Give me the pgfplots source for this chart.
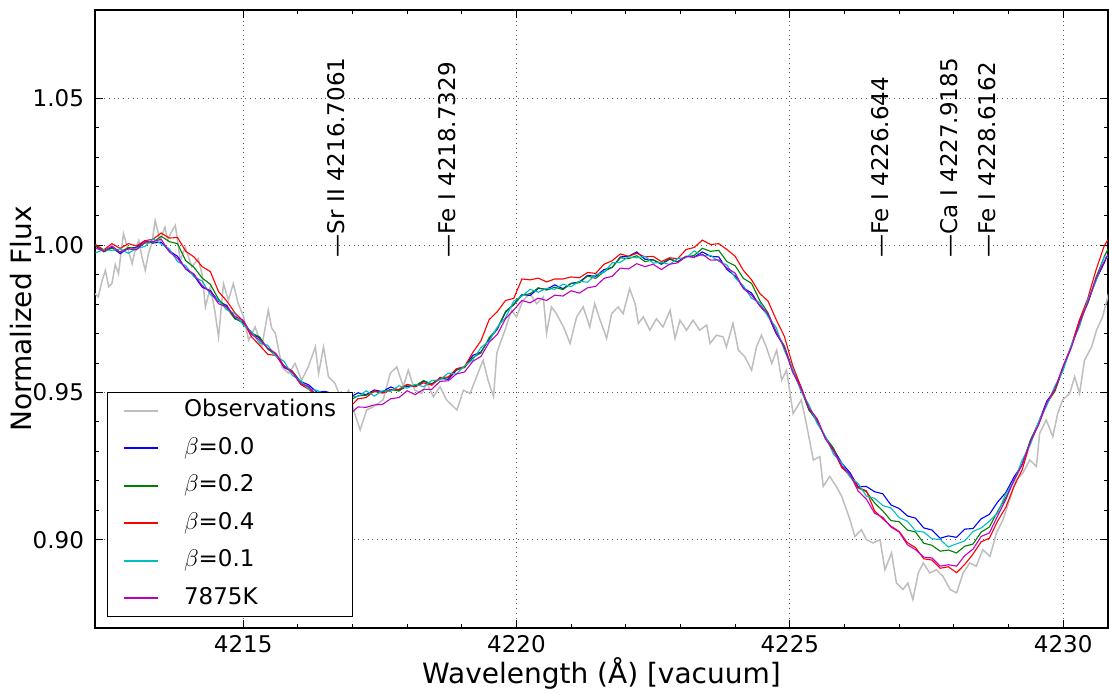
\documentclass[border=0pt]{standalone}
\usepackage{fontspec}
\setmainfont{DejaVu Sans}
\usepackage{pgfplots}
\usepackage{pgfplotstable}
\pgfplotsset{compat=1.18}
\definecolor{obsgray}{RGB}{190,190,190}
\definecolor{mpblue}{RGB}{0,0,255}
\definecolor{mpgreen}{RGB}{0,128,0}
\definecolor{mpred}{RGB}{255,0,0}
\definecolor{mpcyan}{RGB}{0,191,191}
\definecolor{mpmag}{RGB}{191,0,191}

\pgfplotstableread{
x b g r c m
4212.30 .9998 1.0001 1.0003 .9975 .9991
4212.45 .9980 .9978 .9985 .9986 .9981
4212.60 .9993 .9991 1.0006 .9983 .9998
4212.75 .9972 .9978 .9990 .9988 .9977
4212.90 .9991 .9993 1.0006 .9973 .9988
4213.05 .9993 .9990 .9998 .9991 .9985
4213.20 1.0016 1.0008 1.0016 .9996 1.0011
4213.35 1.0008 1.0010 1.0021 1.0023 1.0013
4213.50 1.0011 1.0031 1.0042 1.0005 1.0021
4213.65 .9981 1.0013 1.0025 .9988 .9978
4213.80 .9963 1.0006 1.0027 .9945 .9956
4213.95 .9920 .9948 .9980 .9931 .9921
4214.10 .9898 .9926 .9961 .9893 .9903
4214.25 .9858 .9889 .9928 .9879 .9863
4214.40 .9846 .9868 .9911 .9833 .9843
4214.55 .9810 .9817 .9843 .9813 .9802
4214.70 .9796 .9788 .9811 .9781 .9791
4214.85 .9753 .9750 .9771 .9768 .9758
4215.00 .9736 .9741 .9743 .9730 .9746
4215.15 .9701 .9703 .9690 .9708 .9698
4215.30 .9686 .9689 .9661 .9668 .9679
4215.45 .9650 .9648 .9630 .9661 .9651
4215.60 .9628 .9626 .9626 .9623 .9633
4215.75 .9585 .9591 .9588 .9606 .9590
4215.90 .9571 .9573 .9571 .9558 .9568
4216.05 .9538 .9535 .9528 .9541 .9530
4216.20 .9526 .9518 .9511 .9511 .9521
4216.35 .9501 .9490 .9486 .9508 .9488
4216.50 .9504 .9501 .9488 .9490 .9481
4216.65 .9496 .9490 .9467 .9495 .9450
4216.80 .9501 .9496 .9463 .9475 .9441
4216.95 .9483 .9473 .9450 .9486 .9426
4217.10 .9499 .9489 .9479 .9486 .9451
4217.25 .9493 .9491 .9483 .9506 .9450
4217.40 .9509 .9503 .9506 .9488 .9458
4217.55 .9503 .9500 .9498 .9506 .9460
4217.70 .9519 .9511 .9509 .9504 .9479
4217.85 .9508 .9505 .9511 .9523 .9483
4218.00 .9521 .9526 .9528 .9515 .9506
4218.15 .9521 .9523 .9520 .9528 .9493
4218.30 .9538 .9541 .9533 .9520 .9511
4218.45 .9530 .9528 .9525 .9541 .9511
4218.60 .9548 .9546 .9551 .9543 .9538
4218.75 .9545 .9551 .9553 .9566 .9540
4218.90 .9576 .9578 .9581 .9563 .9563
4219.05 .9588 .9585 .9588 .9591 .9570
4219.20 .9626 .9618 .9636 .9611 .9606
4219.35 .9638 .9635 .9676 .9653 .9623
4219.50 .9681 .9686 .9748 .9675 .9671
4219.65 .9716 .9718 .9775 .9723 .9698
4219.80 .9773 .9776 .9813 .9755 .9751
4219.95 .9800 .9798 .9820 .9811 .9781
4220.10 .9833 .9831 .9886 .9828 .9813
4220.25 .9830 .9836 .9883 .9851 .9805
4220.40 .9854 .9856 .9889 .9841 .9821
4220.55 .9851 .9848 .9876 .9854 .9813
4220.70 .9866 .9858 .9886 .9851 .9831
4220.85 .9853 .9850 .9886 .9868 .9828
4221.00 .9871 .9871 .9893 .9860 .9846
4221.15 .9876 .9873 .9890 .9878 .9838
4221.30 .9898 .9896 .9908 .9875 .9856
4221.45 .9895 .9888 .9905 .9901 .9861
4221.60 .9918 .9911 .9936 .9908 .9888
4221.75 .9925 .9926 .9948 .9941 .9895
4221.90 .9961 .9958 .9971 .9943 .9923
4222.05 .9963 .9955 .9963 .9961 .9920
4222.20 .9978 .9965 .9973 .9958 .9938
4222.35 .9953 .9945 .9961 .9963 .9928
4222.50 .9951 .9951 .9963 .9940 .9936
4222.65 .9936 .9938 .9945 .9943 .9918
4222.80 .9953 .9956 .9958 .9935 .9936
4222.95 .9945 .9943 .9955 .9956 .9941
4223.10 .9963 .9961 .9986 .9958 .9963
4223.25 .9960 .9966 .9993 .9981 .9960
4223.40 .9978 .9990 1.0018 .9965 .9970
4223.55 .9963 .9980 1.0003 .9966 .9950
4223.70 .9961 .9983 1.0006 .9946 .9951
4223.85 .9918 .9945 .9986 .9933 .9923
4224.00 .9896 .9931 .9963 .9890 .9906
4224.15 .9856 .9888 .9915 .9863 .9853
4224.30 .9838 .9871 .9883 .9820 .9831
4224.45 .9795 .9813 .9837 .9806 .9796
4224.60 .9763 .9771 .9811 .9758 .9768
4224.75 .9700 .9706 .9748 .9721 .9705
4224.90 .9656 .9658 .9691 .9643 .9653
4225.05 .9578 .9575 .9593 .9581 .9570
4225.20 .9521 .9513 .9521 .9506 .9516
4225.35 .9443 .9440 .9446 .9458 .9448
4225.50 .9401 .9406 .9408 .9395 .9411
4225.65 .9346 .9348 .9345 .9353 .9343
4225.80 .9308 .9311 .9303 .9290 .9301
4225.95 .9260 .9248 .9245 .9261 .9251
4226.10 .9228 .9216 .9221 .9213 .9223
4226.25 .9180 .9176 .9178 .9191 .9165
4226.40 .9181 .9163 .9166 .9148 .9138
4226.55 .9163 .9125 .9098 .9141 .9090
4226.70 .9156 .9098 .9071 .9116 .9076
4226.85 .9118 .9065 .9046 .9108 .9043
4227.00 .9106 .9061 .9028 .9075 .9026
4227.15 .9081 .9033 .8990 .9063 .8983
4227.30 .9073 .9026 .8973 .9030 .8966
4227.45 .9040 .8988 .8935 .9026 .8941
4227.60 .9033 .8981 .8931 .9003 .8938
4227.75 .9005 .8961 .8903 .9001 .8910
4227.90 .9013 .8965 .8908 .8975 .8915
4228.05 .9008 .8955 .8888 .8986 .8910
4228.20 .9036 .8978 .8916 .8996 .8946
4228.35 .9038 .8985 .8951 .9028 .8968
4228.50 .9071 .9026 .8993 .9040 .9011
4228.65 .9086 .9043 .9005 .9063 .9023
4228.80 .9128 .9096 .9063 .9090 .9081
4228.95 .9160 .9143 .9110 .9156 .9136
4229.10 .9213 .9201 .9181 .9198 .9203
4229.25 .9255 .9256 .9238 .9271 .9255
4229.40 .9336 .9338 .9331 .9323 .9333
4229.55 .9398 .9395 .9393 .9401 .9390
4229.70 .9471 .9463 .9461 .9456 .9466
4229.85 .9508 .9505 .9511 .9523 .9513
4230.00 .9581 .9586 .9588 .9575 .9591
4230.15 .9656 .9658 .9660 .9663 .9653
4230.30 .9743 .9746 .9748 .9725 .9736
4230.45 .9805 .9803 .9820 .9816 .9806
4230.60 .9883 .9891 .9916 .9878 .9888
4230.75 .9940 .9961 .9998 .9961 .9945
4230.82 .9971 .9988 1.0020 .9958 .9968
}\models

\pgfplotstableread{
x y
4212.29 0.9836
4212.35 0.9825
4212.42 0.9880
4212.48 0.9915
4212.54 0.9860
4212.60 0.9870
4212.66 0.9935
4212.72 0.9904
4212.81 1.0040
4212.90 0.9983
4212.97 0.9938
4213.03 0.9990
4213.09 1.0017
4213.15 0.9960
4213.21 0.9915
4213.27 0.9975
4213.33 1.0006
4213.39 1.0085
4213.48 1.0017
4213.57 1.0062
4213.62 1.0020
4213.67 1.0040
4213.76 1.0068
4213.85 0.9949
4213.94 0.9994
4214.06 0.9927
4214.18 0.9955
4214.25 0.9900
4214.31 0.9791
4214.40 0.9859
4214.48 0.9780
4214.55 0.9689
4214.64 0.9870
4214.73 0.9814
4214.82 0.9870
4214.91 0.9802
4215.01 0.9757
4215.10 0.9678
4215.22 0.9723
4215.34 0.9655
4215.46 0.9780
4215.52 0.9720
4215.59 0.9701
4215.71 0.9587
4215.83 0.9565
4215.95 0.9599
4216.07 0.9542
4216.19 0.9587
4216.32 0.9655
4216.38 0.9565
4216.47 0.9655
4216.56 0.9554
4216.68 0.9531
4216.80 0.9475
4216.93 0.9508
4217.02 0.9440
4217.14 0.9373
4217.26 0.9441
4217.38 0.9452
4217.56 0.9475
4217.69 0.9565
4217.81 0.9587
4217.93 0.9520
4218.02 0.9576
4218.14 0.9508
4218.27 0.9497
4218.36 0.9531
4218.48 0.9486
4218.60 0.9520
4218.72 0.9475
4218.91 0.9441
4219.03 0.9508
4219.15 0.9497
4219.27 0.9554
4219.39 0.9610
4219.48 0.9542
4219.58 0.9486
4219.64 0.9633
4219.70 0.9667
4219.79 0.9712
4219.91 0.9780
4220.00 0.9757
4220.12 0.9814
4220.25 0.9836
4220.37 0.9802
4220.49 0.9825
4220.55 0.9701
4220.64 0.9791
4220.73 0.9768
4220.86 0.9723
4220.98 0.9667
4221.10 0.9757
4221.22 0.9791
4221.34 0.9723
4221.43 0.9802
4221.53 0.9746
4221.65 0.9684
4221.74 0.9768
4221.86 0.9791
4221.95 0.9768
4222.07 0.9853
4222.17 0.9802
4222.23 0.9735
4222.32 0.9757
4222.44 0.9712
4222.56 0.9751
4222.68 0.9723
4222.81 0.9780
4222.90 0.9684
4222.99 0.9746
4223.11 0.9712
4223.23 0.9746
4223.35 0.9712
4223.48 0.9729
4223.54 0.9667
4223.66 0.9695
4223.78 0.9689
4223.84 0.9655
4223.96 0.9735
4224.06 0.9644
4224.18 0.9621
4224.30 0.9576
4224.39 0.9655
4224.48 0.9695
4224.57 0.9655
4224.67 0.9599
4224.76 0.9644
4224.85 0.9542
4224.94 0.9576
4225.06 0.9429
4225.21 0.9475
4225.30 0.9396
4225.43 0.9271
4225.55 0.9282
4225.61 0.9181
4225.73 0.9215
4225.85 0.9181
4225.95 0.9147
4226.10 0.9068
4226.19 0.9011
4226.31 0.9034
4226.40 0.9000
4226.52 0.8989
4226.65 0.9000
4226.74 0.8898
4226.86 0.8955
4226.95 0.8853
4227.07 0.8831
4227.16 0.8853
4227.25 0.8797
4227.35 0.8887
4227.44 0.8921
4227.56 0.8887
4227.68 0.8898
4227.80 0.8876
4227.93 0.8831
4228.05 0.8819
4228.17 0.8887
4228.29 0.8921
4228.41 0.8910
4228.53 0.8966
4228.66 0.8943
4228.78 0.9023
4228.90 0.9068
4229.02 0.9136
4229.14 0.9203
4229.26 0.9226
4229.39 0.9271
4229.51 0.9249
4229.57 0.9362
4229.69 0.9407
4229.81 0.9350
4229.90 0.9429
4229.99 0.9475
4230.12 0.9497
4230.21 0.9554
4230.30 0.9497
4230.39 0.9610
4230.52 0.9655
4230.61 0.9712
4230.72 0.9757
4230.83 0.9836
}\obs

\begin{document}
\begin{tikzpicture}
\begin{axis}[
  scale only axis, width=506.5pt, height=309pt,
  xmin=4212.29, xmax=4230.82, ymin=0.87, ymax=1.08,
  xtick={4215,4220,4225,4230}, minor x tick num=4,
  ytick={0.90,0.95,1.00,1.05}, minor y tick num=4,
  grid=major,
  major grid style={black!65, line width=0.4pt, dash pattern=on 0.5pt off 1.85pt},
  tick align=inside, major tick length=4pt, minor tick length=2pt,
  tick style={black, line width=0.5pt},
  axis line style={line width=0.6pt},
  /pgf/number format/assume math mode=true,
  x tick label style={/pgf/number format/1000 sep={}},
  y tick label style={/pgf/number format/fixed, /pgf/number format/fixed zerofill, /pgf/number format/precision=2, xshift=-2pt},
  tick label style={font=\fontsize{11.5}{13}\selectfont},
  xlabel={Wavelength (Å) [vacuum]},
  ylabel={Normalized Flux},
  label style={font=\fontsize{14}{16}\selectfont},
  xlabel style={at={(axis description cs:0.5,-0.0906)}, anchor=base},
  ylabel style={at={(axis description cs:-0.0622,0.5)}, anchor=base},
  legend cell align=left,
  legend image code/.code={\draw[#1, line width=0.8pt] (0pt,0pt) -- (17pt,0pt);},
  legend style={at={(0.0118,0.0178)}, anchor=south west, draw=black, line width=0.5pt,
    fill=white, inner xsep=8pt, inner ysep=3.6pt, row sep=7.75pt, column sep=12.5pt,
    font=\fontsize{11.5}{13}\selectfont,
    nodes={inner sep=0pt, text height=8.5pt, text depth=2.5pt}},
]
\addplot[obsgray, line width=0.75pt] table[x=x, y=y] {\obs};
\addlegendentry{Observations}
\addplot[mpblue, line width=0.55pt] table[x=x, y=b] {\models};
\addlegendentry{$\beta$=0.0}
\addplot[mpgreen, line width=0.55pt] table[x=x, y=g] {\models};
\addlegendentry{$\beta$=0.2}
\addplot[mpred, line width=0.55pt] table[x=x, y=r] {\models};
\addlegendentry{$\beta$=0.4}
\addplot[mpcyan, line width=0.55pt] table[x=x, y=c] {\models};
\addlegendentry{$\beta$=0.1}
\addplot[mpmag, line width=0.55pt] table[x=x, y=m] {\models};
\addlegendentry{7875K}

\node[rotate=90, anchor=west, inner sep=0pt, font=\fontsize{11.5}{13}\selectfont] at (axis cs:4216.7061,0.9959) {—Sr II 4216.7061};
\node[rotate=90, anchor=west, inner sep=0pt, font=\fontsize{11.5}{13}\selectfont] at (axis cs:4218.7329,0.9959) {—Fe I 4218.7329};
\node[rotate=90, anchor=west, inner sep=0pt, font=\fontsize{11.5}{13}\selectfont] at (axis cs:4226.644,0.9959) {—Fe I 4226.644};
\node[rotate=90, anchor=west, inner sep=0pt, font=\fontsize{11.5}{13}\selectfont] at (axis cs:4227.9185,0.9959) {—Ca I 4227.9185};
\node[rotate=90, anchor=west, inner sep=0pt, font=\fontsize{11.5}{13}\selectfont] at (axis cs:4228.6162,0.9959) {—Fe I 4228.6162};
\end{axis}
\pgfresetboundingbox
\path[use as bounding box] ([xshift=-47.5pt,yshift=-33.5pt]current axis.south west) rectangle ([xshift=0.5pt,yshift=5pt]current axis.north east);
\end{tikzpicture}
\end{document}
